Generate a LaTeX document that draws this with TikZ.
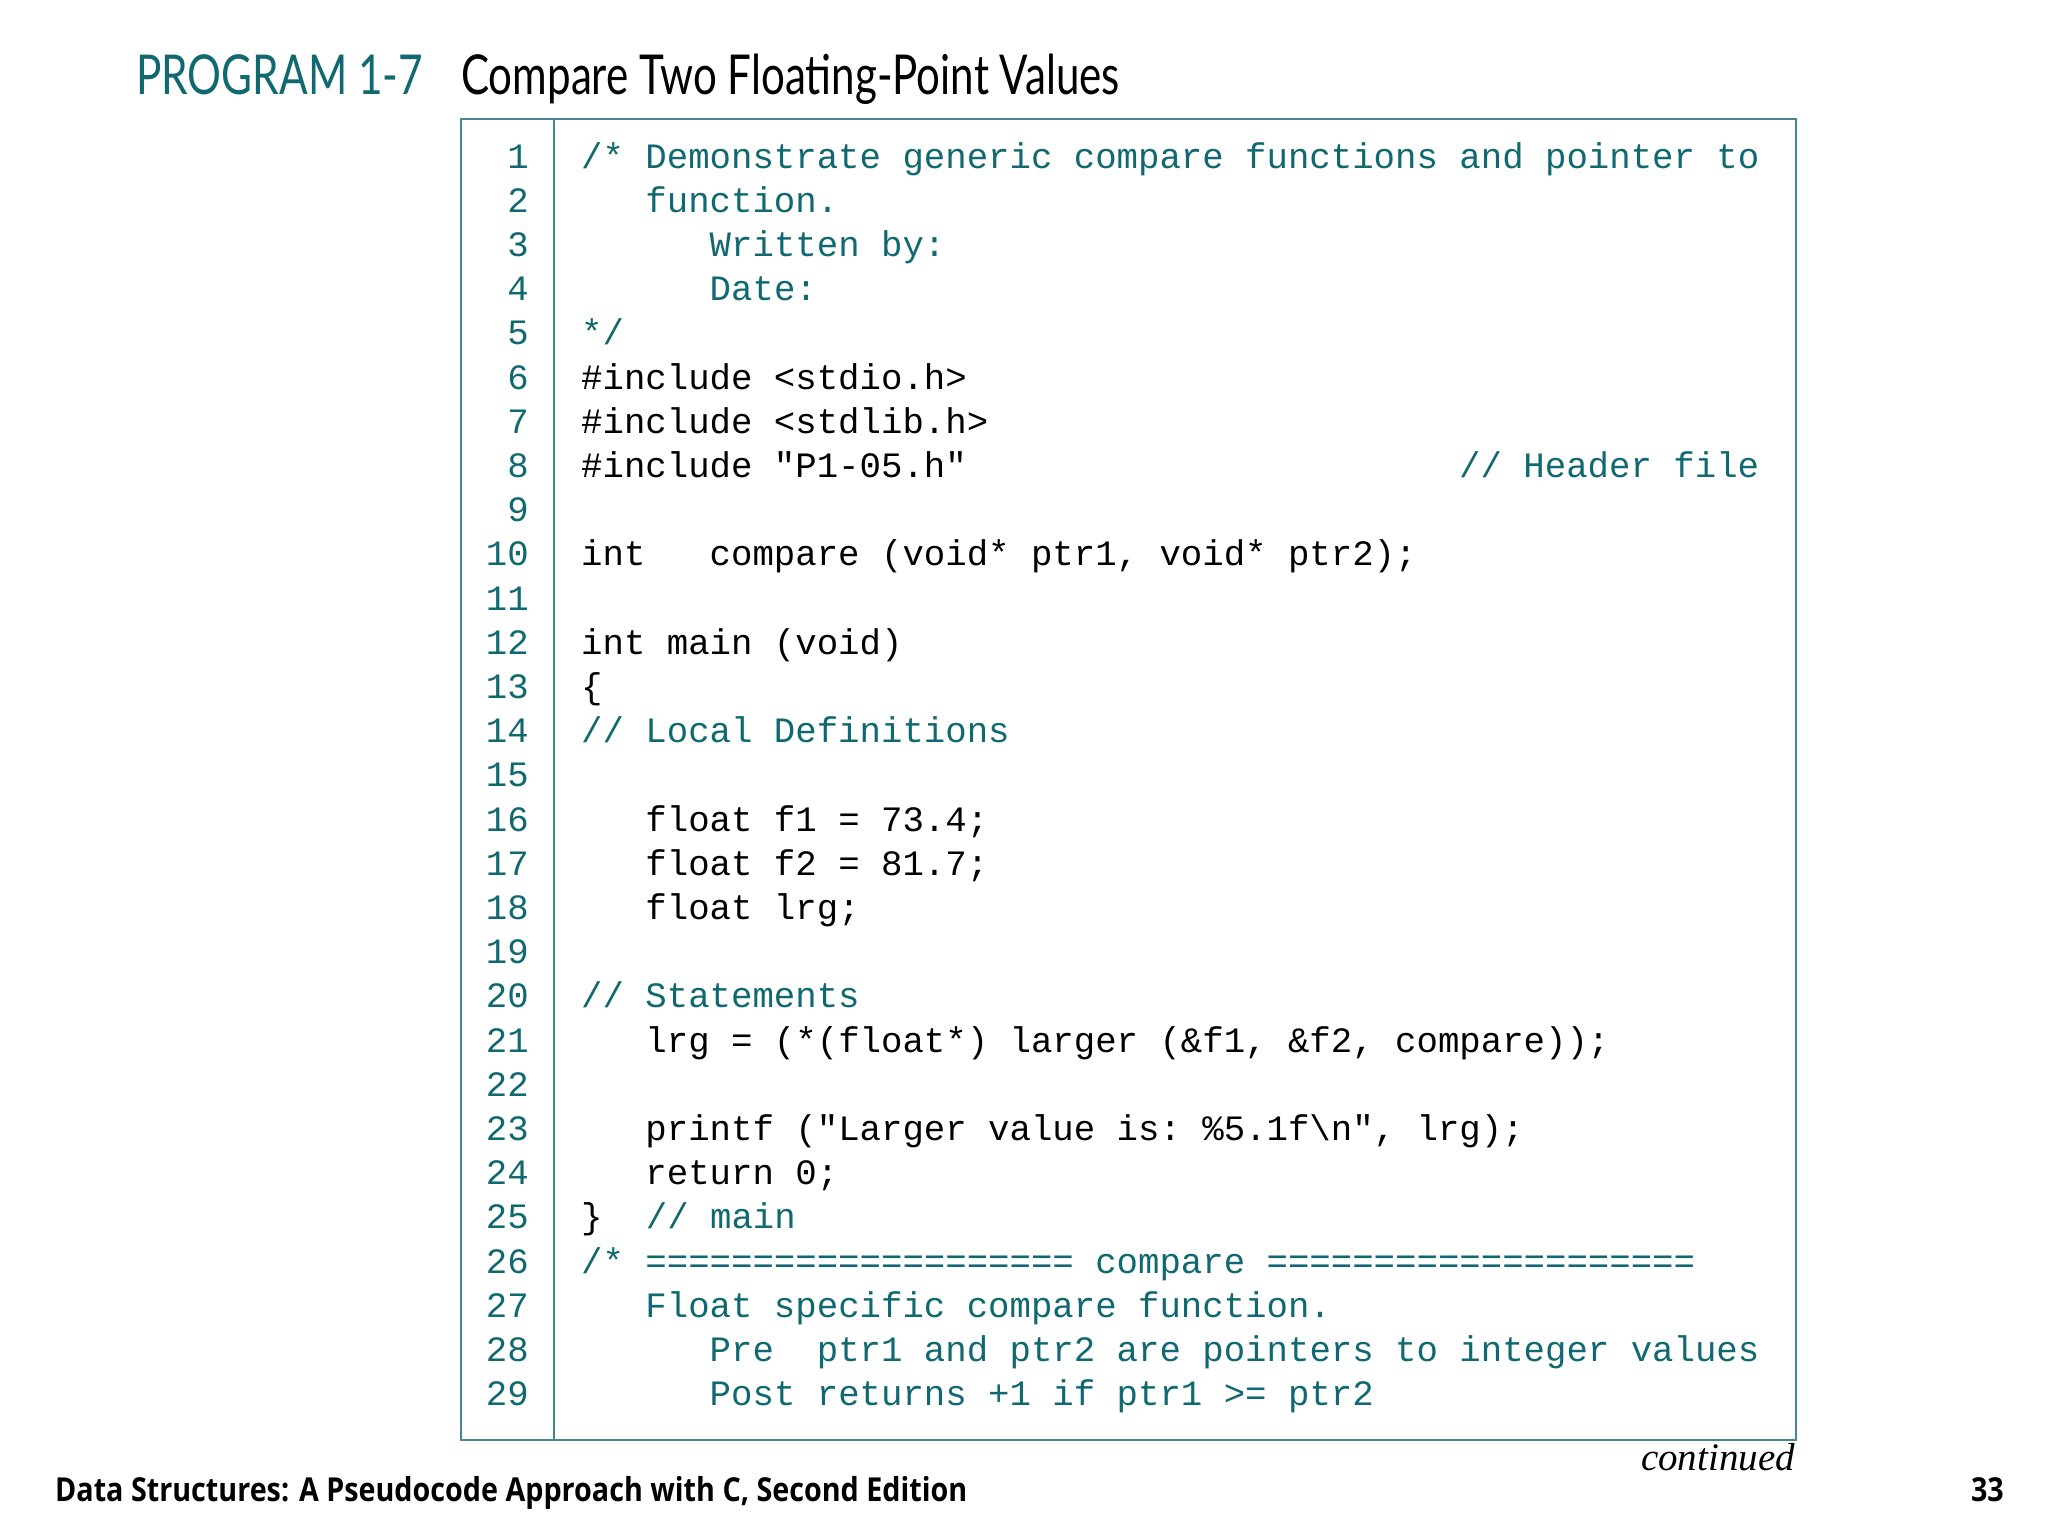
\documentclass[tikz,border=0pt]{standalone}
\usepackage{fontspec}
\setmainfont{Liberation Serif}
\setsansfont{Open Sans}
\setmonofont{Liberation Mono}
\newfontfamily\titlefont{Lato}
\definecolor{progteal}{RGB}{16,104,112}
\definecolor{boxteal}{RGB}{70,135,145}

\begin{document}
\begin{tikzpicture}[x=1pt,y=-1pt]
\tikzstyle{lnum}=[inner sep=0pt,anchor=base east,text=progteal,font=\fontsize{35.7}{40}\ttfamily]
\tikzstyle{code}=[inner sep=0pt,anchor=base west,text=black,font=\fontsize{35.7}{40}\ttfamily]
\tikzstyle{cmt}=[code,text=progteal]
\tikzstyle{foot}=[inner sep=0pt,anchor=base west,font=\fontsize{33}{33}\sffamily\bfseries]
\useasboundingbox (0,0) rectangle (2048,1536);
\node[inner sep=0pt,anchor=base west,text=progteal,font=\fontsize{55}{55}\titlefont] (prog) at (136,95) {\scalebox{0.77}[1]{PROGRAM 1-7}};
\node[inner sep=0pt,anchor=base west,font=\fontsize{55}{55}\titlefont] (title) at (461,95) {\scalebox{0.765}[1]{Compare Two Floating-Point Values}};
\draw[boxteal,line width=2.5pt] (461,119) rectangle (1796,1440);
\draw[boxteal,line width=2.5pt] (554,119) -- (554,1440);
\coordinate (codex) at (581,0);
\coordinate (cmtx) at (1459,0);
\foreach \i in {1,...,29}
  \node[lnum] (ln\i) at (529,{168+(\i-1)*44.2}) {\i};
\node[cmt] (c1) at (ln1.base -| codex) {/* Demonstrate generic compare functions and pointer to};
\node[cmt] (c2) at (ln2.base -| codex) {~~~function.};
\node[cmt] (c3) at (ln3.base -| codex) {~~~~~~Written by:};
\node[cmt] (c4) at (ln4.base -| codex) {~~~~~~Date:};
\node[cmt] (c5) at (ln5.base -| codex) {*/};
\node[code] (c6) at (ln6.base -| codex) {\#include <stdio.h>};
\node[code] (c7) at (ln7.base -| codex) {\#include <stdlib.h>};
\node[code] (c8) at (ln8.base -| codex) {\#include "P1-05.h"};
\node[cmt] (k8) at (ln8.base -| cmtx) {// Header file};
\node[code] (c10) at (ln10.base -| codex) {int~~~compare (void* ptr1, void* ptr2);};
\node[code] (c12) at (ln12.base -| codex) {int main (void)};
\node[code] (c13) at (ln13.base -| codex) {\{};
\node[cmt] (c14) at (ln14.base -| codex) {// Local Definitions};
\node[code] (c16) at (ln16.base -| codex) {~~~float f1 = 73.4;};
\node[code] (c17) at (ln17.base -| codex) {~~~float f2 = 81.7;};
\node[code] (c18) at (ln18.base -| codex) {~~~float lrg;};
\node[cmt] (c20) at (ln20.base -| codex) {// Statements};
\node[code] (c21) at (ln21.base -| codex) {~~~lrg = (*(float*) larger (\&f1, \&f2, compare));};
\node[code] (c23) at (ln23.base -| codex) {~~~printf ("Larger value is: \%5.1f\textbackslash n", lrg);};
\node[code] (c24) at (ln24.base -| codex) {~~~return 0;};
\node[code] (c25) at (ln25.base -| codex) {\}};
\node[cmt] (k25) at (c25.base east) {~~// main};
\node[cmt] (c26) at (ln26.base -| codex) {/* ==================== compare ====================};
\node[cmt] (c27) at (ln27.base -| codex) {~~~Float specific compare function.};
\node[cmt] (c28) at (ln28.base -| codex) {~~~~~~Pre~~ptr1 and ptr2 are pointers to integer values};
\node[cmt] (c29) at (ln29.base -| codex) {~~~~~~Post returns +1 if ptr1 >= ptr2};
\node[inner sep=0pt,anchor=base east,font=\fontsize{39}{39}\itshape] (cont) at (1795,1470) {continued};
\node[foot] (book) at (55,1501) {\scalebox{0.87}[1]{Data Structures: A Pseudocode Approach with C, Second Edition}};
\node[foot,anchor=base east] (page) at (2004,1501) {\scalebox{0.87}[1]{33}};
\end{tikzpicture}
\end{document}
